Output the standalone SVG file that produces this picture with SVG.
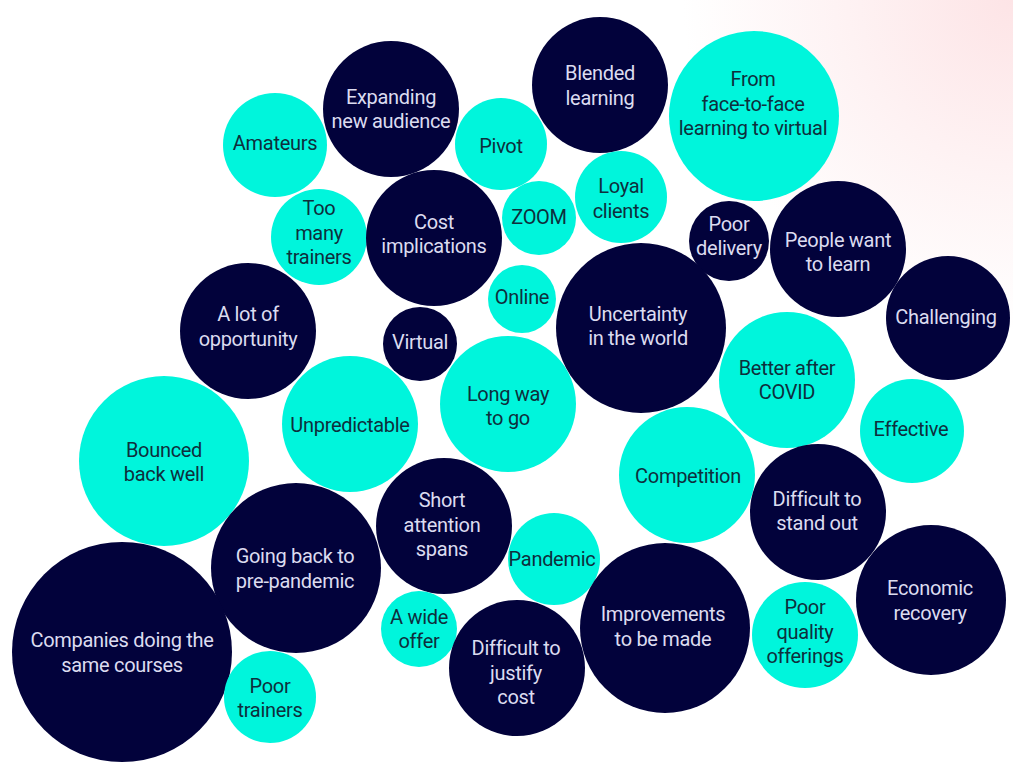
<svg xmlns="http://www.w3.org/2000/svg" width="1013" height="772" viewBox="0 0 1013 772">
<defs>
<radialGradient id="bg" cx="1013" cy="0" r="330" gradientUnits="userSpaceOnUse">
<stop offset="0" stop-color="#fde4e6"/>
<stop offset="0.5" stop-color="#fef2f3"/>
<stop offset="1" stop-color="#ffffff"/>
</radialGradient>
<style>
.d{fill:#02023b}
.c{fill:#00f5dc}
text{font-family:Roboto,"Liberation Sans",sans-serif;font-size:20px;letter-spacing:-0.3px;text-anchor:middle}
.d+text{fill:#dcdcf0}
.c+text{fill:#0e2f3c}
</style>
</defs>
<rect width="1013" height="772" fill="url(#bg)"/>
<g id="amateurs"><circle class="c" cx="275" cy="145" r="52"/><text x="275" y="150">Amateurs</text></g>
<g id="expanding"><circle class="d" cx="391" cy="109" r="68"/><text x="391" y="104">Expanding<tspan x="391" dy="24">new audience</tspan></text></g>
<g id="pivot"><circle class="c" cx="501" cy="144" r="46"/><text x="501" y="153">Pivot</text></g>
<g id="blended"><circle class="d" cx="600" cy="85" r="68"/><text x="600" y="80">Blended<tspan x="600" dy="25">learning</tspan></text></g>
<g id="facetoface"><circle class="c" cx="754" cy="116" r="85"/><text x="753" y="86">From<tspan x="753" dy="25">face-to-face</tspan><tspan x="753" dy="24">learning to virtual</tspan></text></g>
<g id="toomany"><circle class="c" cx="319" cy="237" r="48"/><text x="319" y="215">Too<tspan x="319" dy="25">many</tspan><tspan x="319" dy="24">trainers</tspan></text></g>
<g id="cost"><circle class="d" cx="434" cy="238" r="68"/><text x="434" y="229">Cost<tspan x="434" dy="24">implications</tspan></text></g>
<g id="zoom"><circle class="c" cx="539" cy="218" r="37"/><text x="539" y="224">ZOOM</text></g>
<g id="loyal"><circle class="c" cx="621" cy="197" r="46"/><text x="621" y="193">Loyal<tspan x="621" dy="25">clients</tspan></text></g>
<g id="poordelivery"><circle class="d" cx="729" cy="241" r="40"/><text x="729" y="231">Poor<tspan x="729" dy="24">delivery</tspan></text></g>
<g id="peoplewant"><circle class="d" cx="838" cy="249" r="68"/><text x="838" y="247">People want<tspan x="838" dy="24">to learn</tspan></text></g>
<g id="online"><circle class="c" cx="522" cy="299" r="34"/><text x="522" y="304">Online</text></g>
<g id="alot"><circle class="d" cx="248" cy="331" r="68"/><text x="248" y="321">A lot of<tspan x="248" dy="25">opportunity</tspan></text></g>
<g id="virtual"><circle class="d" cx="420" cy="344" r="37"/><text x="420" y="349">Virtual</text></g>
<g id="uncertainty"><circle class="d" cx="641" cy="328" r="85"/><text x="638" y="321">Uncertainty<tspan x="638" dy="24">in the world</tspan></text></g>
<g id="challenging"><circle class="d" cx="948" cy="318" r="62"/><text x="946" y="324">Challenging</text></g>
<g id="better"><circle class="c" cx="787" cy="380" r="68"/><text x="787" y="375">Better after<tspan x="787" dy="24">COVID</tspan></text></g>
<g id="longway"><circle class="c" cx="508" cy="404" r="68"/><text x="508" y="401">Long way<tspan x="508" dy="24">to go</tspan></text></g>
<g id="unpredictable"><circle class="c" cx="350" cy="424" r="68"/><text x="350" y="432">Unpredictable</text></g>
<g id="effective"><circle class="c" cx="912" cy="431" r="52"/><text x="911" y="436">Effective</text></g>
<g id="bounced"><circle class="c" cx="164" cy="461" r="85"/><text x="164" y="457">Bounced<tspan x="164" dy="24">back well</tspan></text></g>
<g id="competition"><circle class="c" cx="687" cy="475" r="68"/><text x="688" y="483">Competition</text></g>
<g id="shortattention"><circle class="d" cx="444" cy="526" r="68"/><text x="442" y="507">Short<tspan x="442" dy="25">attention</tspan><tspan x="442" dy="24">spans</tspan></text></g>
<g id="standout"><circle class="d" cx="818" cy="512" r="68"/><text x="817" y="506">Difficult to<tspan x="817" dy="24">stand out</tspan></text></g>
<g id="goingback"><circle class="d" cx="296" cy="568" r="85"/><text x="295" y="563">Going back to<tspan x="295" dy="25">pre-pandemic</tspan></text></g>
<g id="pandemic"><circle class="c" cx="554" cy="559" r="46"/><text x="552" y="566">Pandemic</text></g>
<g id="economic"><circle class="d" cx="931" cy="600" r="75"/><text x="930" y="595">Economic<tspan x="930" dy="25">recovery</tspan></text></g>
<g id="improvements"><circle class="d" cx="665" cy="628" r="85"/><text x="663" y="621">Improvements<tspan x="663" dy="25">to be made</tspan></text></g>
<g id="poorquality"><circle class="c" cx="805" cy="635" r="53"/><text x="805" y="614">Poor<tspan x="805" dy="25">quality</tspan><tspan x="805" dy="24">offerings</tspan></text></g>
<g id="wideoffer"><circle class="c" cx="419" cy="629" r="38"/><text x="419" y="624">A wide<tspan x="419" dy="24">offer</tspan></text></g>
<g id="companies"><circle class="d" cx="122" cy="652" r="110"/><text x="122" y="647">Companies doing the<tspan x="122" dy="25">same courses</tspan></text></g>
<g id="justify"><circle class="d" cx="517" cy="668" r="68"/><text x="516" y="655">Difficult to<tspan x="516" dy="25">justify</tspan><tspan x="516" dy="24">cost</tspan></text></g>
<g id="poortrainers"><circle class="c" cx="270" cy="697" r="46"/><text x="270" y="693">Poor<tspan x="270" dy="24">trainers</tspan></text></g>
</svg>
